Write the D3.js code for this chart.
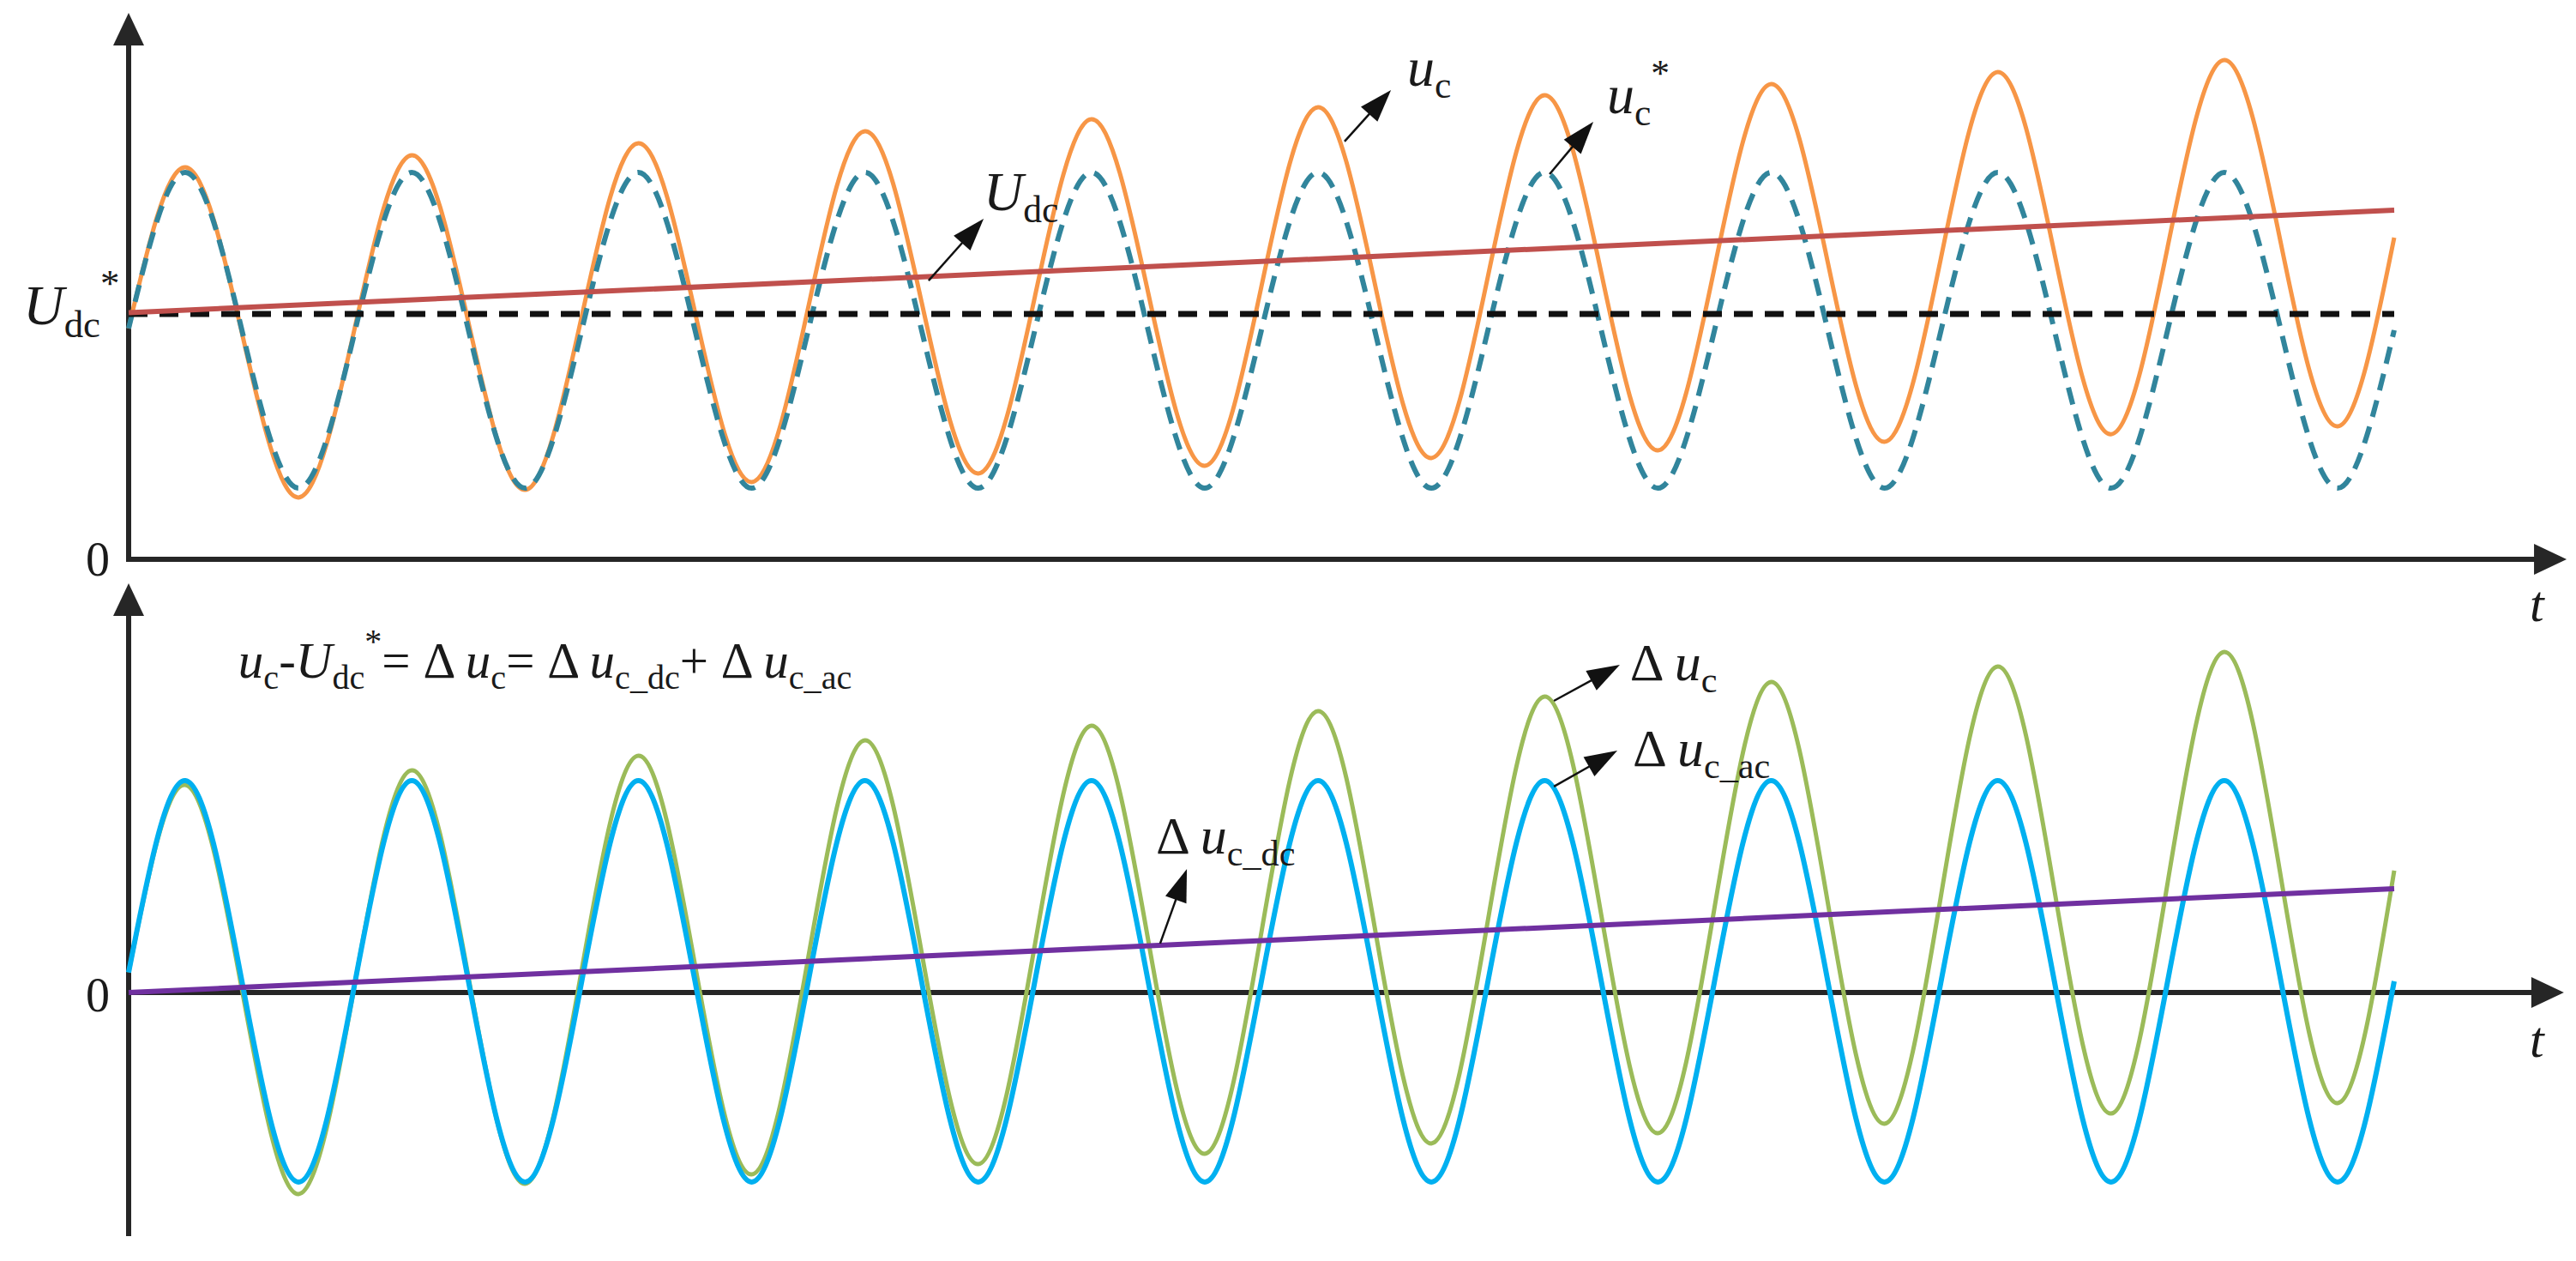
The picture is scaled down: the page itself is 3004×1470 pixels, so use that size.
<!DOCTYPE html>
<html><head><meta charset="utf-8">
<script src="https://cdn.jsdelivr.net/npm/d3@7"></script>
<style>
html,body{margin:0;padding:0;background:#fff;}
svg{display:block;background:#fff;}
svg text{font-family:"Liberation Serif","DejaVu Serif",serif;fill:#1a1a1a;}
</style></head><body>
<svg id="chart" width="3004" height="1470" font-family="Liberation Serif, DejaVu Serif, serif"></svg>
<script>
// ---------------- DATA ----------------
// sample instants: quarter periods of the AC ripple, 10 periods shown
const sampleTimes = d3.range(0, 10.001, 0.25);

// top panel (unit: U_dc* = 1)
const ucStarValues = [
  0.941,1.577,0.934,0.290, 0.934,1.577,0.934,0.290, 0.934,1.577,0.934,0.290,
  0.934,1.577,0.934,0.290, 0.934,1.577,0.934,0.290, 0.934,1.577,0.934,0.290,
  0.934,1.577,0.934,0.290, 0.934,1.577,0.934,0.290, 0.934,1.577,0.934,0.290,
  0.934,1.577,0.934,0.290, 0.934];
const ucValues = [
  0.941,1.598,0.923,0.252, 0.951,1.647,0.965,0.283, 0.990,1.696,1.007,0.315,
  1.028,1.745,1.049,0.350, 1.070,1.794,1.087,0.381, 1.112,1.843,1.126,0.413,
  1.154,1.892,1.168,0.444, 1.189,1.937,1.210,0.479, 1.231,1.986,1.248,0.510,
  1.273,2.035,1.287,0.542, 1.311];
const udcTimes = [0, 10];
const udcValues = [1.005, 1.423];
const udcStarValues = [1.0, 1.0];

// bottom panel
const duValues = [
  0.100,1.034,0.015,-1.004, 0.052,1.107,0.077,-0.953, 0.113,1.179,0.137,-0.906,
  0.175,1.256,0.201,-0.855, 0.237,1.329,0.263,-0.803, 0.300,1.402,0.325,-0.752,
  0.361,1.474,0.387,-0.701, 0.423,1.547,0.447,-0.654, 0.485,1.624,0.511,-0.603,
  0.547,1.697,0.573,-0.551, 0.607];
const duAcValues = [
  0.100,1.056,0.056,-0.944, 0.056,1.056,0.056,-0.944, 0.056,1.056,0.056,-0.944,
  0.056,1.056,0.056,-0.944, 0.056,1.056,0.056,-0.944, 0.056,1.056,0.056,-0.944,
  0.056,1.056,0.056,-0.944, 0.056,1.056,0.056,-0.944, 0.056,1.056,0.056,-0.944,
  0.056,1.056,0.056,-0.944, 0.056];
const duDcTimes = [0, 10];
const duDcValues = [0, 0.517];

// ---------------- LAYOUT ----------------
const svg = d3.select("#chart");
const x = d3.scaleLinear().domain([0, 10]).range([150, 2792]);
const yTop = d3.scaleLinear().domain([0, 1]).range([652, 366]);
const yBot = d3.scaleLinear().domain([0, 1]).range([1157, 923]);

const AX = "#262626";
const FS = 60;

function pts(ts, vs){ return ts.map((t,i)=>({t, v:vs[i]})); }

function arrowHead(g, x1, y1, x2, y2, len, hw, color){
  const dx = x2-x1, dy = y2-y1, L = Math.hypot(dx,dy);
  const ux = dx/L, uy = dy/L, bx = x2-ux*len, by = y2-uy*len;
  g.append("path")
    .attr("d", `M${x2},${y2}L${bx - uy*hw},${by + ux*hw}L${bx + uy*hw},${by - ux*hw}Z`)
    .attr("fill", color);
}
function arrow(g, x1, y1, x2, y2, opts){
  const o = Object.assign({w:2.5, len:38, hw:13, color:"#111"}, opts||{});
  const dx = x2-x1, dy = y2-y1, L = Math.hypot(dx,dy);
  g.append("line").attr("x1",x1).attr("y1",y1)
    .attr("x2", x2 - dx/L*(o.len*0.8)).attr("y2", y2 - dy/L*(o.len*0.8))
    .attr("stroke", o.color).attr("stroke-width", o.w);
  arrowHead(g, x1, y1, x2, y2, o.len, o.hw, o.color);
}
function rich(g, px, py, parts, size, anchor){
  const t = g.append("text").attr("x", px).attr("y", py).attr("font-size", size)
    .attr("text-anchor", anchor || "start");
  let shift = 0;
  parts.forEach(p => {
    const target = p.sub ? size*0.22 : p.sup ? -size*0.5 : (p.dy || 0);
    const ts = t.append("tspan").text(p.s).attr("dy", target - shift);
    shift = target;
    if (p.sub || p.sup) ts.attr("font-size", size*0.68);
    if (p.it) ts.attr("font-style", "italic");
  });
  return t;
}

const gTop = svg.append("g");
const gBot = svg.append("g");

// ---------------- AXES ----------------
function drawAxes(g, y, tMax, vMax, vMin){
  const x0 = x(0), y0 = y(0);
  g.append("line").attr("x1", x0-3).attr("y1", y0).attr("x2", x(tMax)-30).attr("y2", y0)
    .attr("stroke", AX).attr("stroke-width", 6);
  arrowHead(g, x0, y0, x(tMax), y0, 38, 18, AX);
  g.append("line").attr("x1", x0).attr("y1", y(vMin)).attr("x2", x0).attr("y2", y(vMax)+30)
    .attr("stroke", AX).attr("stroke-width", 6);
  arrowHead(g, x0, y(vMin), x0, y(vMax), 38, 18, AX);
}
drawAxes(gTop, yTop, 10.761, 2.227, 0);
drawAxes(gBot, yBot, 10.749, 2.038, -1.214);

// ---------------- SERIES ----------------
const lineTop = d3.line().x(d=>x(d.t)).y(d=>yTop(d.v)).curve(d3.curveNatural);
const lineBot = d3.line().x(d=>x(d.t)).y(d=>yBot(d.v)).curve(d3.curveNatural);

gTop.append("path").attr("d", lineTop(pts(sampleTimes, ucValues)))
  .attr("fill","none").attr("stroke","#F79646").attr("stroke-width",5);
gTop.append("path").attr("d", lineTop(pts(sampleTimes, ucStarValues)))
  .attr("fill","none").attr("stroke","#31859C").attr("stroke-width",6)
  .attr("stroke-dasharray","20 12");
gTop.append("path").attr("d", lineTop(pts(udcTimes, udcStarValues)))
  .attr("fill","none").attr("stroke","#111").attr("stroke-width",7)
  .attr("stroke-dasharray","22 14");
gTop.append("path").attr("d", lineTop(pts(udcTimes, udcValues)))
  .attr("fill","none").attr("stroke","#C0504D").attr("stroke-width",6);

gBot.append("path").attr("d", lineBot(pts(sampleTimes, duValues)))
  .attr("fill","none").attr("stroke","#9BBB59").attr("stroke-width",5);
gBot.append("path").attr("d", lineBot(pts(sampleTimes, duAcValues)))
  .attr("fill","none").attr("stroke","#00B0F0").attr("stroke-width",6);
gBot.append("path").attr("d", lineBot(pts(duDcTimes, duDcValues)))
  .attr("fill","none").attr("stroke","#7030A0").attr("stroke-width",6);

// ---------------- LABELS ----------------
gTop.append("text").attr("x", x(0)-22).attr("y", yTop(0)+19).attr("text-anchor","end")
  .attr("font-size", 56).text("0");
gBot.append("text").attr("x", x(0)-22).attr("y", yBot(0)+22).attr("text-anchor","end")
  .attr("font-size", 56).text("0");
gTop.append("text").attr("x", 2950).attr("y", yTop(0)+72).attr("font-size", FS)
  .attr("font-style","italic").text("t");
gBot.append("text").attr("x", 2950).attr("y", yBot(0)+75).attr("font-size", FS)
  .attr("font-style","italic").text("t");

rich(gTop, 27, yTop(0.958), [{s:"U",it:true},{s:"dc",sub:true},{s:"*",sup:true}], 66);

arrow(gTop, x(3.531), yTop(1.136), x(3.774), yTop(1.388));
rich(gTop, x(3.774), yTop(1.423), [{s:"U",it:true},{s:"dc",sub:true}], 64);

arrow(gTop, x(5.367), yTop(1.703), x(5.572), yTop(1.913));
rich(gTop, x(5.643), yTop(1.930), [{s:"u",it:true},{s:"c",sub:true}], 64);

arrow(gTop, x(6.272), yTop(1.570), x(6.465), yTop(1.783));
rich(gTop, x(6.525), yTop(1.818), [{s:"u",it:true},{s:"c",sub:true},{s:"*",sup:true}], 64);

rich(gBot, x(0.484), yBot(1.568), [
  {s:"u",it:true},{s:"c",sub:true},{s:"-"},{s:"U",it:true},{s:"dc",sub:true},{s:"*",sup:true},
  {s:"= Δ "},{s:"u",it:true},{s:"c",sub:true},{s:"= Δ "},{s:"u",it:true},{s:"c_dc",sub:true},
  {s:"+ Δ "},{s:"u",it:true},{s:"c_ac",sub:true}
], 59);

arrow(gBot, x(6.291), yBot(1.453), x(6.582), yBot(1.632));
rich(gBot, x(6.627), yBot(1.556), [{s:"Δ "},{s:"u",it:true},{s:"c",sub:true}], 62);

arrow(gBot, x(6.291), yBot(1.026), x(6.571), yBot(1.205));
rich(gBot, x(6.639), yBot(1.128), [{s:"Δ "},{s:"u",it:true},{s:"c_ac",sub:true}], 62);

arrow(gBot, x(4.553), yBot(0.244), x(4.671), yBot(0.615));
rich(gBot, x(4.534), yBot(0.692), [{s:"Δ "},{s:"u",it:true},{s:"c_dc",sub:true}], 62);
</script>
</body></html>
